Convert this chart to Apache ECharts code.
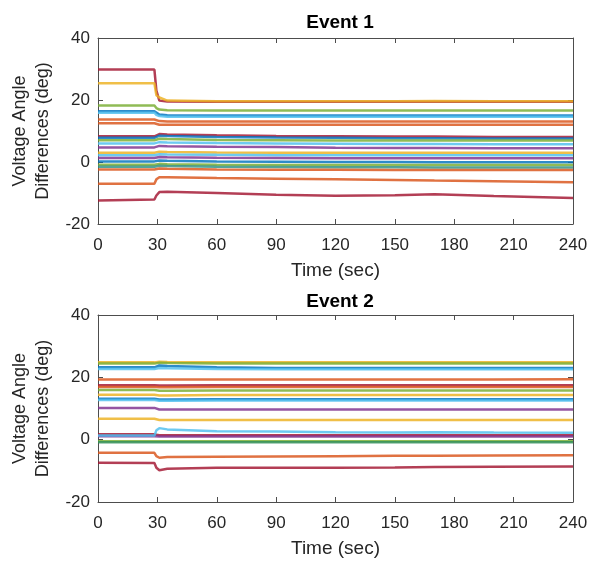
<!DOCTYPE html>
<html>
<head>
<meta charset="utf-8">
<script src="https://cdn.jsdelivr.net/npm/echarts@6/dist/echarts.min.js"></script>
<style>html,body{margin:0;padding:0;background:#fff}#c{width:597px;height:561px}</style>
</head>
<body>
<div id="c"></div>
<script>
// ---- data ----
const titles = ['Event 1', 'Event 2'];
const xTicks = [0, 30, 60, 90, 120, 150, 180, 210, 240];
const yTicks = [-20, 0, 20, 40];
const times = [0, 28.5, 29.5, 31, 35, 60, 90, 120, 150, 170, 200, 240];

const event1Colors = ['#A2142F','#EDB120','#77AC30','#0072BD','#4DBEEE','#D95319','#D95319',
  '#A2142F','#0072BD','#77AC30','#4DBEEE','#7E2F8E','#EDB120','#4DBEEE','#7E2F8E','#0072BD',
  '#77AC30','#2F8F80','#D95319','#D95319','#A2142F'];
const event1Values = [
  [29.8,29.8,23.0,19.8,19.5,19.4,19.4,19.4,19.4,19.4,19.4,19.4],
  [25.4,25.4,21.5,20.8,19.8,19.6,19.6,19.6,19.6,19.7,19.6,19.6],
  [18.2,18.2,17.4,16.9,16.7,16.6,16.6,16.6,16.6,16.6,16.6,16.6],
  [16.4,16.4,15.8,15.3,15.1,15.0,15.0,15.0,15.0,15.0,15.0,15.0],
  [15.9,15.9,15.2,14.8,14.6,14.6,14.6,14.6,14.6,14.6,14.6,14.6],
  [13.7,13.7,13.4,13.2,13.1,13.1,13.1,13.1,13.1,13.1,13.1,13.1],
  [12.5,12.5,12.2,12.0,12.0,12.0,12.0,12.0,12.0,12.0,12.0,12.0],
  [8.3,8.3,8.8,9.0,8.9,8.6,8.4,8.3,8.2,8.2,8.1,8.1],
  [7.8,7.8,8.2,8.5,8.4,8.1,7.9,7.8,7.7,7.7,7.6,7.6],
  [7.0,7.0,7.3,7.5,7.4,7.1,7.0,6.9,6.9,6.9,6.9,6.9],
  [6.0,6.0,6.3,6.4,6.3,6.1,6.0,5.9,5.8,5.8,5.7,5.7],
  [4.7,4.7,5.0,5.2,5.1,4.9,4.8,4.6,4.5,4.5,4.4,4.4],
  [3.0,3.0,3.2,3.3,3.2,3.1,3.0,3.0,3.0,3.0,3.0,3.0],
  [2.2,2.2,2.4,2.5,2.4,2.3,2.2,2.2,2.2,2.2,2.2,2.2],
  [1.3,1.3,1.5,1.6,1.5,1.4,1.3,1.2,1.2,1.2,1.2,1.2],
  [0.2,0.2,0.4,0.5,0.4,0.2,0.1,0.0,0.0,-0.1,-0.1,-0.1],
  [-0.9,-0.9,-0.7,-0.6,-0.7,-0.9,-1.0,-1.0,-1.0,-1.0,-1.0,-1.0],
  [-1.5,-1.5,-1.3,-1.2,-1.3,-1.5,-1.6,-1.7,-1.7,-1.8,-1.8,-1.8],
  [-2.4,-2.4,-2.2,-2.1,-2.2,-2.4,-2.5,-2.5,-2.6,-2.6,-2.6,-2.6],
  [-7.0,-7.0,-5.6,-4.9,-4.9,-5.2,-5.4,-5.6,-5.8,-6.0,-6.2,-6.5],
  [-12.4,-12.1,-10.8,-9.7,-9.6,-10.0,-10.6,-10.9,-10.7,-10.4,-11.0,-11.6]
];

const event2Colors = ['#EDB120','#77AC30','#0072BD','#4DBEEE','#D95319','#A2142F','#D95319',
  '#77AC30','#EDB120','#0072BD','#4DBEEE','#7E2F8E','#EDB120','#A2142F','#7E2F8E','#4DBEEE',
  '#77AC30','#2F8F5A','#D95319','#A2142F'];
const event2Values = [
  [24.8,24.8,24.9,25.0,24.9,24.8,24.8,24.8,24.8,24.8,24.8,24.8],
  [24.4,24.4,24.6,24.7,24.6,24.4,24.4,24.4,24.4,24.4,24.4,24.4],
  [23.2,23.2,23.6,23.8,23.6,23.2,23.0,23.0,23.0,23.0,23.0,23.0],
  [22.7,22.7,22.9,23.0,22.9,22.7,22.6,22.6,22.6,22.6,22.6,22.6],
  [19.3,19.3,19.3,19.3,19.3,19.3,19.3,19.3,19.3,19.3,19.3,19.4],
  [17.5,17.5,17.4,17.4,17.4,17.5,17.5,17.5,17.5,17.5,17.5,17.5],
  [16.9,16.9,16.8,16.8,16.8,16.9,16.9,16.9,16.9,16.9,16.9,16.9],
  [15.9,15.9,15.8,15.7,15.7,15.8,15.8,15.8,15.8,15.8,15.8,15.8],
  [14.4,14.4,14.3,14.2,14.2,14.3,14.3,14.3,14.3,14.3,14.3,14.3],
  [13.1,13.1,13.0,12.9,12.9,13.0,13.0,13.0,13.0,13.0,13.0,13.0],
  [12.7,12.7,12.6,12.5,12.5,12.6,12.6,12.6,12.6,12.6,12.6,12.6],
  [10.2,10.2,9.9,9.7,9.7,9.7,9.7,9.7,9.7,9.7,9.7,9.7],
  [6.7,6.7,6.5,6.3,6.3,6.3,6.3,6.3,6.3,6.3,6.3,6.3],
  [1.7,1.7,1.5,1.4,1.4,1.4,1.4,1.4,1.4,1.4,1.4,1.4],
  [1.1,1.1,1.0,1.0,1.0,1.0,1.0,1.0,1.0,1.0,1.0,1.0],
  [1.3,1.3,3.0,3.7,3.3,2.7,2.6,2.4,2.3,2.4,2.3,2.2],
  [-0.5,-0.5,-0.5,-0.5,-0.5,-0.5,-0.5,-0.5,-0.5,-0.5,-0.5,-0.5],
  [-0.8,-0.8,-0.8,-0.8,-0.8,-0.8,-0.8,-0.8,-0.8,-0.8,-0.8,-0.8],
  [-4.2,-4.2,-5.3,-5.8,-5.6,-5.5,-5.4,-5.3,-5.2,-5.2,-5.1,-5.0],
  [-7.4,-7.5,-9.0,-9.8,-9.3,-9.0,-9.0,-9.0,-8.9,-8.8,-8.7,-8.6]
];

// ---- chart ----
const FONT = '"Liberation Sans", Arial, sans-serif';
const TXT = '#262626';
const AX = '#4d4d4d';
const grids = [
  {left: 98, top: 38, width: 475, height: 186},
  {left: 98, top: 315, width: 475, height: 187}
];

function xAx(g, pos, main) {
  return {
    type: 'value', gridIndex: g, position: pos, min: xTicks[0], max: xTicks[xTicks.length-1],
    interval: xTicks[1]-xTicks[0],
    name: main ? 'Time (sec)' : '', nameLocation: 'middle', nameGap: 37,
    nameTextStyle: {fontFamily: FONT, fontSize: 19, color: TXT},
    axisLine: {show: true, onZero: false, lineStyle: {color: AX, width: 1}},
    axisTick: {show: true, inside: true, length: 5, lineStyle: {color: AX}},
    axisLabel: {show: main, fontFamily: FONT, fontSize: 17, color: TXT, margin: 13},
    splitLine: {show: false}
  };
}
function yAx(g, pos, main) {
  return {
    type: 'value', gridIndex: g, position: pos, min: yTicks[0], max: yTicks[yTicks.length-1],
    interval: yTicks[1]-yTicks[0],
    name: main ? 'Voltage Angle\nDifferences (deg)' : '', nameLocation: 'middle', nameGap: 39,
    nameRotate: 90,
    nameTextStyle: {fontFamily: FONT, fontSize: 18, color: TXT, lineHeight: 23},
    axisLine: {show: true, onZero: false, lineStyle: {color: AX, width: 1}},
    axisTick: {show: true, inside: true, length: 5, lineStyle: {color: AX}},
    axisLabel: {show: main, fontFamily: FONT, fontSize: 17, color: TXT, margin: 8},
    splitLine: {show: false}
  };
}

const series = [];
function addSeries(values, colors, axisIdx) {
  values.forEach((vals, i) => {
    series.push({
      type: 'line', xAxisIndex: axisIdx, yAxisIndex: axisIdx,
      data: vals.map((v, k) => [times[k], v]),
      showSymbol: false, symbol: 'none', silent: true, animation: false,
      lineStyle: {color: colors[i], width: 2.5, opacity: 0.82}
    });
  });
}
addSeries(event1Values, event1Colors, 0);
addSeries(event2Values, event2Colors, 2);

const chart = echarts.init(document.getElementById('c'), null, {renderer: 'canvas'});
chart.setOption({
  animation: false,
  backgroundColor: '#fff',
  title: [
    {text: titles[0], left: 335, top: 8, textAlign: 'center',
     textStyle: {fontFamily: FONT, fontSize: 19, fontWeight: 'bold', color: '#000'}},
    {text: titles[1], left: 335, top: 287, textAlign: 'center',
     textStyle: {fontFamily: FONT, fontSize: 19, fontWeight: 'bold', color: '#000'}}
  ],
  grid: grids,
  xAxis: [xAx(0,'bottom',true), xAx(0,'top',false), xAx(1,'bottom',true), xAx(1,'top',false)],
  yAxis: [yAx(0,'left',true), yAx(0,'right',false), yAx(1,'left',true), yAx(1,'right',false)],
  series: series
});
</script>
</body>
</html>
